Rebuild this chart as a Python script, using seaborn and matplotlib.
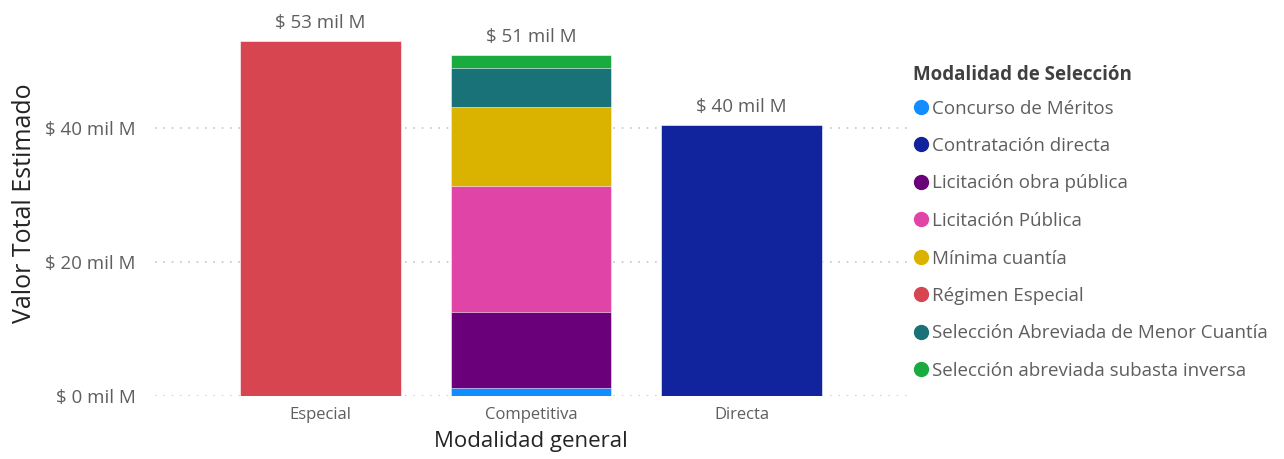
import matplotlib
matplotlib.use("Agg")
import matplotlib.pyplot as plt
from matplotlib.lines import Line2D
import pandas as pd
import seaborn as sns

# Datos (miles de millones de pesos)
modalidad_general = ["Especial", "Competitiva", "Competitiva", "Competitiva",
                     "Competitiva", "Competitiva", "Competitiva", "Directa"]
modalidad_seleccion = ["Régimen Especial", "Concurso de Méritos",
                       "Licitación obra pública", "Licitación Pública",
                       "Mínima cuantía", "Selección Abreviada de Menor Cuantía",
                       "Selección abreviada subasta inversa",
                       "Contratación directa"]
valor = [53.0, 1.2, 11.25, 18.8, 11.85, 5.8, 2.0, 40.4]

categorias = ["Especial", "Competitiva", "Directa"]
leyenda = ["Concurso de Méritos", "Contratación directa",
           "Licitación obra pública", "Licitación Pública", "Mínima cuantía",
           "Régimen Especial", "Selección Abreviada de Menor Cuantía",
           "Selección abreviada subasta inversa"]

COLORES = {
    "Concurso de Méritos": "#118DFF",
    "Contratación directa": "#12239E",
    "Licitación obra pública": "#6B007B",
    "Licitación Pública": "#E044A7",
    "Mínima cuantía": "#D9B300",
    "Régimen Especial": "#D64550",
    "Selección Abreviada de Menor Cuantía": "#197278",
    "Selección abreviada subasta inversa": "#1AAB40",
}

GRIS = "#605E5C"
OSCURO = "#252423"

df = pd.DataFrame({"general": modalidad_general,
                   "seleccion": modalidad_seleccion,
                   "valor": valor})
df["tope"] = df.groupby("general")["valor"].cumsum()
totales = df.groupby("general")["valor"].sum()

sns.set_theme(style="white")
plt.rcParams["font.family"] = ["Open Sans", "DejaVu Sans"]

fig = plt.figure(figsize=(12.84, 4.59), dpi=100)
ax = fig.add_axes([155 / 1284, 1 - 395.7 / 459, 752 / 1284, 385.7 / 459])

# Líneas de cuadrícula punteadas
for v in [0, 20, 40]:
    ax.axhline(v, color="#C8C6C4", linewidth=1.2, linestyle=(0, (1, 4)),
               zorder=0)

# Barras apiladas: se dibujan los acumulados de arriba hacia abajo
for i in reversed(range(len(df))):
    fila = df.iloc[[i]]
    sns.barplot(data=fila, x="general", y="tope", order=categorias,
                color=COLORES[fila["seleccion"].iloc[0]], saturation=1,
                width=0.762, errorbar=None, ax=ax, zorder=2,
                edgecolor="white", linewidth=0.4)

# Etiquetas de total
for i, cat in enumerate(categorias):
    ax.text(i, totales[cat] + 1.3, f"$ {totales[cat]:.0f} mil M",
            ha="center", va="bottom", fontsize=13.5, color=GRIS)

ax.set_xlim(-0.786, 2.786)
ax.set_ylim(0, 57.6)
ax.set_yticks([0, 20, 40])
ax.set_yticklabels([f"$ {v} mil M" for v in [0, 20, 40]])
ax.tick_params(axis="y", labelsize=13.5, labelcolor=GRIS, length=0, pad=14)
ax.tick_params(axis="x", labelsize=12, labelcolor=GRIS, length=0, pad=8)
ax.set_xlabel("Modalidad general", fontsize=16, color=OSCURO, labelpad=6)
ax.set_ylabel("Valor Total Estimado", fontsize=18, color=OSCURO, labelpad=6)
sns.despine(ax=ax, left=True, bottom=True)

# Leyenda con marcadores circulares (título aparte)
fig.text(913 / 1284, 1 - 75 / 459, "Modalidad de Selección", ha="left",
         va="center", fontsize=13.5, fontweight="bold", color="#404040")
handles = [Line2D([], [], marker="o", linestyle="", markersize=10,
                  markerfacecolor=COLORES[s], markeredgecolor=COLORES[s])
           for s in leyenda]
leg = fig.legend(handles, leyenda, loc="upper left",
                 bbox_to_anchor=(911 / 1284, 1 - 99.5 / 459),
                 frameon=False, fontsize=13.5, borderpad=0,
                 handletextpad=0.0, labelspacing=1.04, borderaxespad=0,
                 handlelength=1.1)
for t in leg.get_texts():
    t.set_color(GRIS)

fig.savefig("out.png", dpi=100, facecolor="white")
